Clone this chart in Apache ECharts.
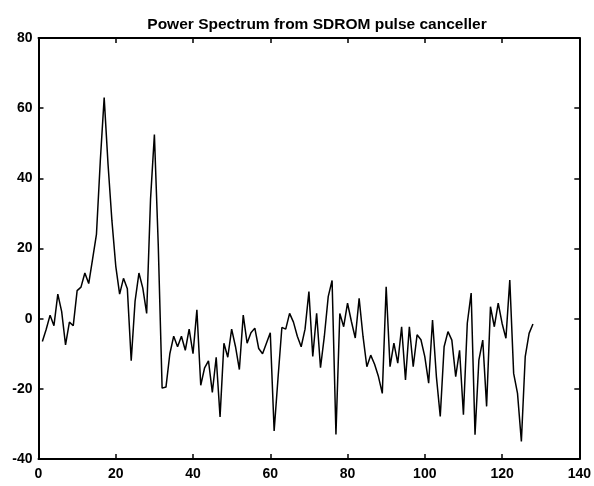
<!DOCTYPE html>
<html>
<head>
<meta charset="utf-8">
<script src="https://cdn.jsdelivr.net/npm/echarts@6/dist/echarts.min.js"></script>
<style>
html,body{margin:0;padding:0;background:#fff;}
#chart{width:594px;height:486px;}
</style>
</head>
<body>
<div id="chart"></div>
<script>
const titleText = "Power Spectrum from SDROM pulse canceller";
const xTicks = [0, 20, 40, 60, 80, 100, 120, 140];
const yTicks = [-40, -20, 0, 20, 40, 60, 80];
const startBin = 1;
const powerDb = [
  -6.5, -3, 1, -2, 7, 2, -7.5, -1, -2, 8,
  9, 13, 10, 17, 24, 45, 63, 44, 28, 15,
  7, 11.5, 8.5, -12, 5, 13, 8.7, 1.5, 34, 52.5,
  21, -19.8, -19.5, -10, -5, -8, -5, -9, -3, -10,
  2.5, -19, -14, -12, -21, -11, -28, -7, -11, -3,
  -8, -14.5, 1, -7, -4, -2.7, -8.5, -10, -7, -4,
  -32, -17, -2.5, -3, 1.5, -1, -5, -8, -3, 7.7,
  -10.8, 1.5, -14, -5, 6.3, 10.9, -33, 1.5, -2.3, 4.4,
  -0.8, -5.5, 5.8, -5, -13.7, -10.4, -13, -16.5, -21.3, 9.1,
  -13.7, -7, -12.7, -2.3, -17.5, -2.3, -13.7, -4.6, -6, -10.8,
  -18.4, -0.4, -16.5, -27.9, -8, -3.7, -6.1, -16.5, -9, -27.4,
  -1.3, 7.3, -33.1, -11.8, -6.1, -25, 3.4, -2.3, 4.4, -1.3,
  -5.6, 11, -15.6, -21.3, -35, -10.8, -4.2, -1.5
];

const seriesData = powerDb.map((v, i) => [startBin + i, v]);

const labelFont = {fontFamily: 'Liberation Sans', fontSize: 14, fontWeight: 'bold', color: '#000'};
const axisLine = {show: true, onZero: false, lineStyle: {color: '#000', width: 2}};
const tickStyle = {show: true, inside: true, length: 5, lineStyle: {color: '#000', width: 1.5}};

function xAx(pos, showLabel) {
  return {
    type: 'value', position: pos, min: xTicks[0], max: xTicks[xTicks.length - 1],
    interval: xTicks[1] - xTicks[0],
    axisLine: axisLine, axisTick: tickStyle, splitLine: {show: false},
    axisLabel: Object.assign({show: showLabel, margin: 8}, labelFont)
  };
}
function yAx(pos, showLabel) {
  return {
    type: 'value', position: pos, min: yTicks[0], max: yTicks[yTicks.length - 1],
    interval: yTicks[1] - yTicks[0],
    axisLine: axisLine, axisTick: tickStyle, splitLine: {show: false},
    axisLabel: Object.assign({show: showLabel, margin: 6}, labelFont)
  };
}

const chart = echarts.init(document.getElementById('chart'), null, {renderer: 'canvas'});
chart.setOption({
  backgroundColor: '#fff',
  animation: false,
  title: {
    text: titleText, left: 312, top: 12, textAlign: 'center',
    textStyle: {fontFamily: 'Liberation Sans', fontSize: 15.5, fontWeight: 'bold', color: '#000'}
  },
  grid: {left: 38.5, right: 8.5, top: 38, bottom: 27, containLabel: false},
  xAxis: [xAx('bottom', true), xAx('top', false)],
  yAxis: [yAx('left', true), yAx('right', false)],
  series: [{
    type: 'line', data: seriesData, xAxisIndex: 0, yAxisIndex: 0,
    showSymbol: false, symbol: 'none',
    lineStyle: {color: '#000', width: 1.5}
  }]
});
</script>
</body>
</html>
